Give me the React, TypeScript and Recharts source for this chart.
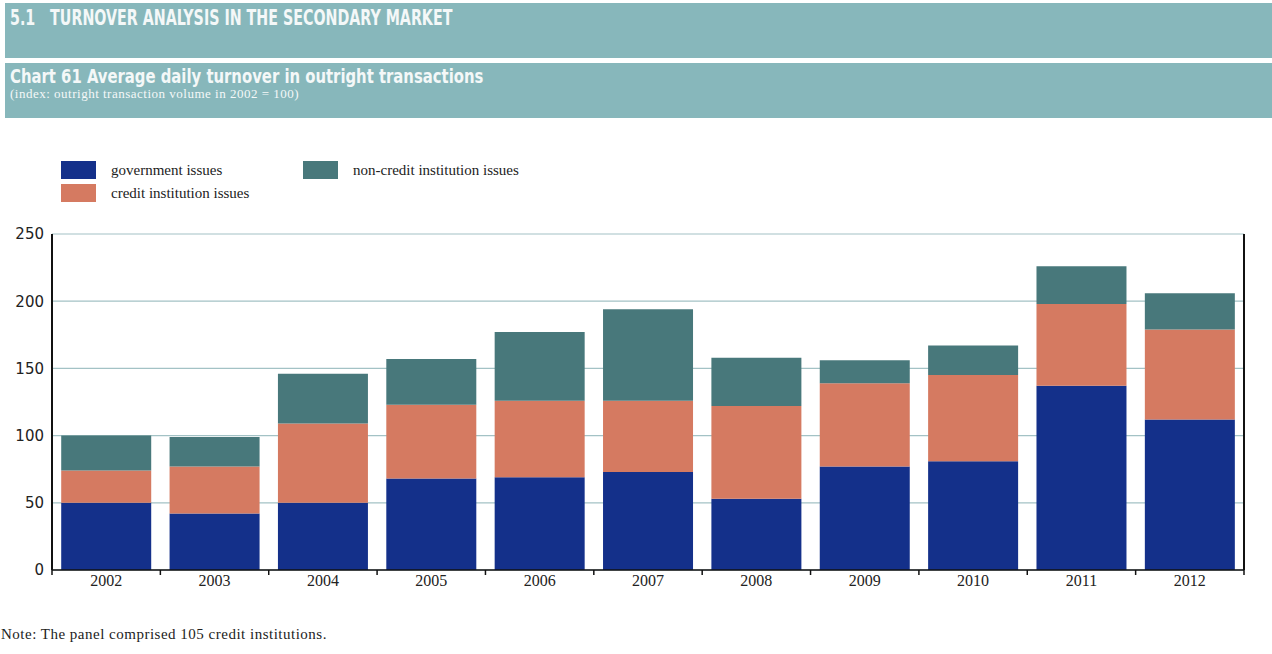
import React from "react";
import { BarChart, Bar, XAxis, YAxis, CartesianGrid } from "recharts";

const years = ["2002", "2003", "2004", "2005", "2006", "2007", "2008", "2009", "2010", "2011", "2012"];
const governmentIssues = [50, 42, 50, 68, 69, 73, 53, 77, 81, 137, 112];
const creditInstitutionIssues = [24, 35, 59, 55, 57, 53, 69, 62, 64, 61, 67];
const nonCreditInstitutionIssues = [26, 22, 37, 34, 51, 68, 36, 17, 22, 28, 27];
const yTicks = [0, 50, 100, 150, 200, 250];

const COLORS = {
  gov: "#14308a",
  credit: "#d57a61",
  noncredit: "#48787b",
  band: "#87b7bb",
  grid: "#a3c2c5",
};

const data = years.map((y, i) => ({
  year: y,
  gov: governmentIssues[i],
  credit: creditInstitutionIssues[i],
  noncredit: nonCreditInstitutionIssues[i],
}));

const W = 1272;
const H = 600;
const LEFT_W = 52;
const RIGHT_W = 28;
const TOP = 234;
const XAXIS_H = 30;
const BAND = (W - LEFT_W - RIGHT_W) / years.length;
const TICK_SIZE = 5;
const TICK_MARGIN = 6;

const XTick = (props: any) => {
  const { x, y, payload, index } = props;
  const axisY = y - TICK_SIZE - TICK_MARGIN;
  return (
    <g>
      <line x1={x - BAND / 2} x2={x - BAND / 2} y1={axisY} y2={axisY + TICK_SIZE} stroke="#111" strokeWidth={1.5} />
      {index === years.length - 1 && (
        <line x1={x + BAND / 2} x2={x + BAND / 2} y1={axisY} y2={axisY + TICK_SIZE} stroke="#111" strokeWidth={1.5} />
      )}
      <text x={x} y={y} dy={5} textAnchor="middle" fontFamily="'Liberation Serif', serif" fontSize={16} fill="#222">
        {payload.value}
      </text>
    </g>
  );
};

const legendItems = [
  { label: "government issues", color: COLORS.gov, x: 61, y: 161 },
  { label: "credit institution issues", color: COLORS.credit, x: 61, y: 184 },
  { label: "non-credit institution issues", color: COLORS.noncredit, x: 303, y: 161 },
];

const headStyle: React.CSSProperties = {
  position: "absolute",
  left: 5,
  color: "#f4f8f8",
  fontFamily: "'DejaVu Sans Condensed', 'DejaVu Sans', sans-serif",
  fontWeight: "bold",
  whiteSpace: "nowrap",
  transformOrigin: "left center",
};

export default function App() {
  return (
    <div style={{ position: "absolute", left: 0, top: 0, width: W, height: 654, overflow: "hidden", background: "#fff" }}>
      <div style={{ position: "absolute", left: 0, top: 0 }}>
        <BarChart
          width={W}
          height={H}
          data={data}
          margin={{ top: TOP, right: 0, left: 0, bottom: 0 }}
          barCategoryGap="8.5%"
        >
          <CartesianGrid vertical={false} stroke={COLORS.grid} strokeWidth={1.2} yAxisId="left" />
          <XAxis
            dataKey="year"
            height={XAXIS_H}
            axisLine={{ stroke: "#111", strokeWidth: 1.5 }}
            tickLine={false}
            tickSize={TICK_SIZE}
            tickMargin={TICK_MARGIN}
            tick={<XTick />}
            interval={0}
          />
          <YAxis
            yAxisId="left"
            orientation="left"
            width={LEFT_W}
            domain={[0, 250]}
            ticks={yTicks}
            axisLine={{ stroke: "#111", strokeWidth: 2 }}
            tickLine={false}
            tick={{ fontFamily: "'DejaVu Sans', sans-serif", fontSize: 15, fill: "#222" }}
          />
          <YAxis
            yAxisId="right"
            orientation="right"
            width={RIGHT_W}
            domain={[0, 250]}
            ticks={yTicks}
            axisLine={{ stroke: "#111", strokeWidth: 2 }}
            tickLine={false}
            tick={{ fontFamily: "'DejaVu Sans', sans-serif", fontSize: 15, fill: "#222", textAnchor: "start" }}
          />
          <Bar dataKey="gov" stackId="a" yAxisId="left" fill={COLORS.gov} isAnimationActive={false} />
          <Bar dataKey="credit" stackId="a" yAxisId="left" fill={COLORS.credit} isAnimationActive={false} />
          <Bar dataKey="noncredit" stackId="a" yAxisId="left" fill={COLORS.noncredit} isAnimationActive={false} />
        </BarChart>
      </div>

      {/* Header bands */}
      <div style={{ position: "absolute", left: 5, top: 3, width: W - 5, height: 55, background: COLORS.band }}>
        <div style={{ ...headStyle, top: 2, fontSize: 22, transform: "scaleX(0.72)" }}>
          5.1&nbsp;&nbsp;&nbsp;TURNOVER ANALYSIS IN THE SECONDARY MARKET
        </div>
      </div>
      <div style={{ position: "absolute", left: 5, top: 63, width: W - 5, height: 55, background: COLORS.band }}>
        <div style={{ ...headStyle, top: 2, fontSize: 20, lineHeight: "22px", transform: "scaleX(0.825)" }}>
          Chart 61 Average daily turnover in outright transactions
        </div>
        <div
          style={{
            position: "absolute",
            left: 5,
            top: 24,
            lineHeight: "14px",
            color: "#f4f8f8",
            fontFamily: "'Liberation Serif', serif",
            fontSize: 13,
            letterSpacing: 0.5,
            whiteSpace: "nowrap",
          }}
        >
          (index: outright transaction volume in 2002 = 100)
        </div>
      </div>

      {/* Legend */}
      {legendItems.map((it) => (
        <div key={it.label} style={{ position: "absolute", left: it.x, top: it.y }}>
          <div style={{ position: "absolute", left: 0, top: 0, width: 35, height: 18, background: it.color }} />
          <div
            style={{
              position: "absolute",
              left: 50,
              top: 0,
              lineHeight: "18px",
              fontFamily: "'Liberation Serif', serif",
              fontSize: 15,
              color: "#222",
              whiteSpace: "nowrap",
            }}
          >
            {it.label}
          </div>
        </div>
      ))}

      {/* Note */}
      <div
        style={{
          position: "absolute",
          left: 1,
          top: 626,
          fontFamily: "'Liberation Serif', serif",
          fontSize: 15,
          letterSpacing: 0.5,
          color: "#222",
          whiteSpace: "nowrap",
        }}
      >
        Note: The panel comprised 105 credit institutions.
      </div>
    </div>
  );
}
